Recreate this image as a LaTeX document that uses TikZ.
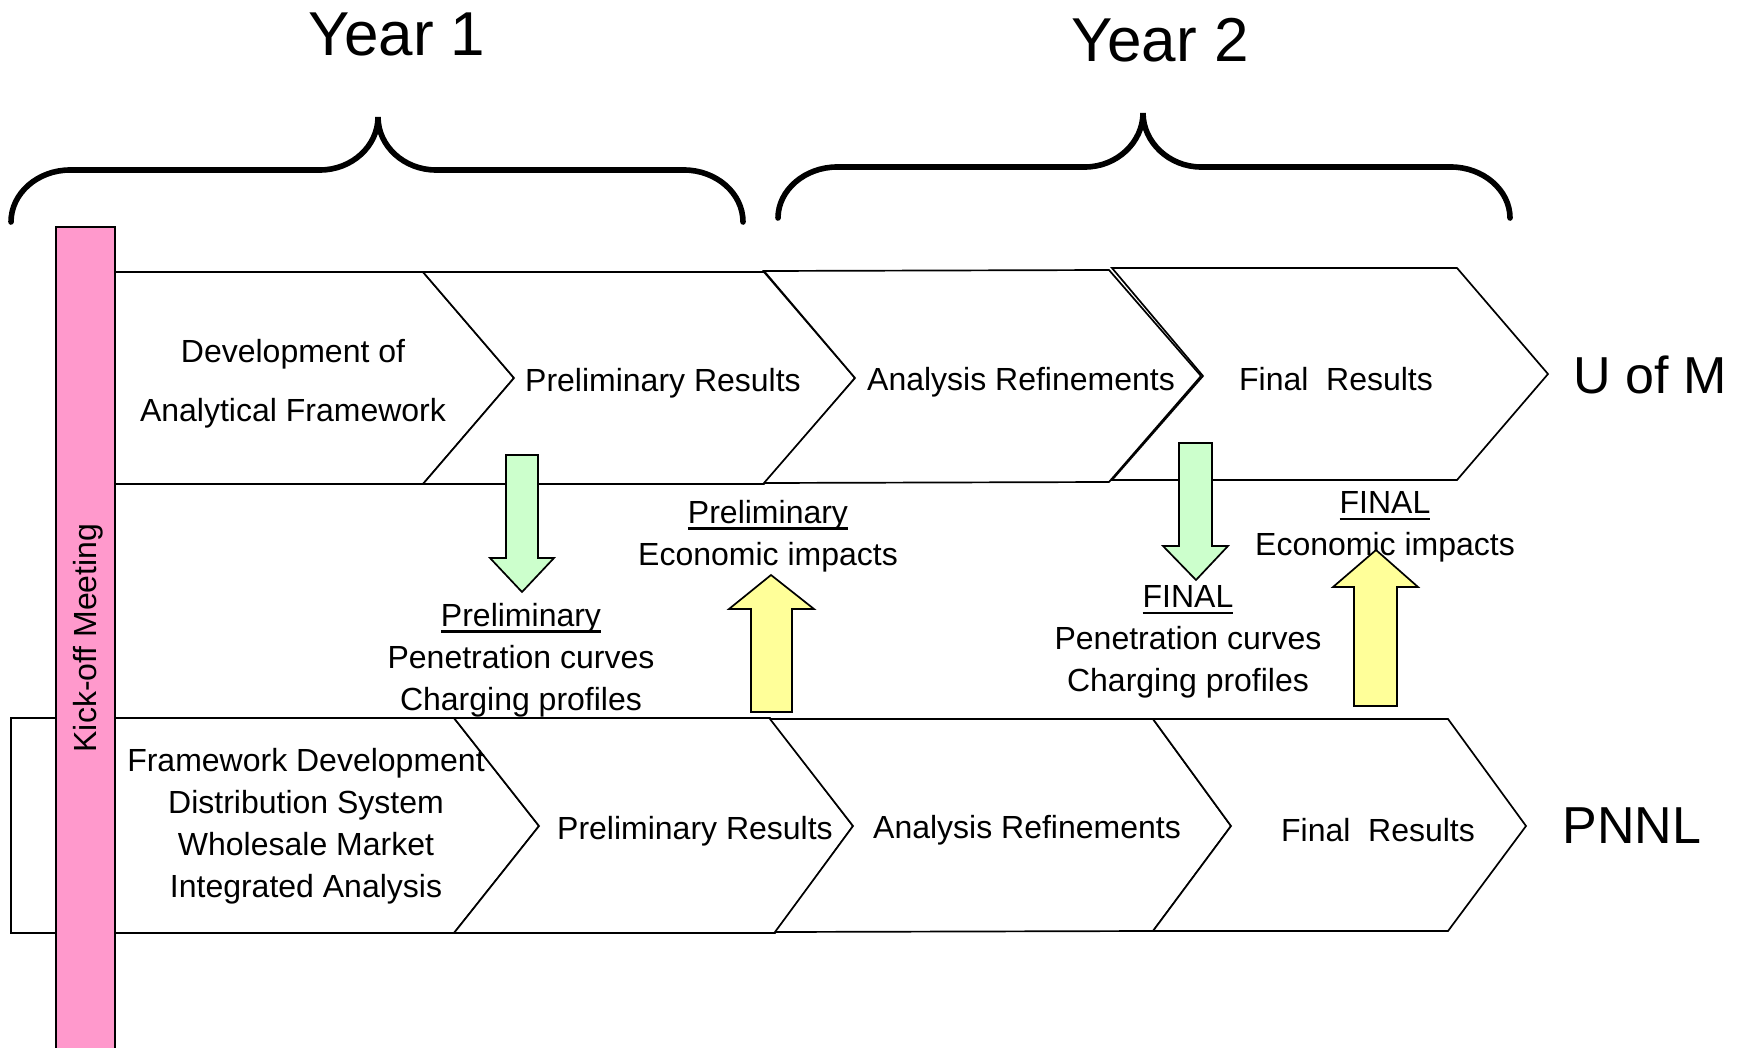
\documentclass[tikz,border=0pt]{standalone}
\usepackage{fontspec}
\setmainfont{Liberation Sans}
\usepackage{xcolor}
\usepackage{tikz}
\usetikzlibrary{positioning}

\definecolor{kickpink}{HTML}{FF99CC}
\definecolor{downgreen}{HTML}{CCFFCC}
\definecolor{upyellow}{HTML}{FFFF99}

\newsavebox{\ulbox}
\newcommand{\ulword}[1]{\sbox{\ulbox}{#1}\rlap{\rule[-3.2pt]{\wd\ulbox}{1.1pt}}\usebox{\ulbox}}

\begin{document}
\begin{tikzpicture}[x=0.5pt,y=-0.5pt,line join=miter]
			\tikzstyle{chevron}=[draw=black,fill=white,line width=0.85pt]
			\tikzstyle{brace}=[draw=black,line width=2.8pt,line cap=round]
			\tikzstyle{blockarrow}=[draw=black,line width=0.85pt]
			\tikzstyle{steptext}=[align=center,inner sep=0pt,font=\fontsize{16}{21}\selectfont]
			\tikzstyle{grouptext}=[inner sep=0pt,font=\fontsize{26}{30}\selectfont]
			\tikzstyle{yeartext}=[inner sep=0pt,font=\fontsize{31}{36}\selectfont]
			
			\useasboundingbox (0,0) rectangle (1744,1048);
			
			% year braces
			\draw[brace] (11,222) .. controls (11,193) and (38,170) .. (70,170) -- (320,170)
			.. controls (352,170) and (378,146) .. (378,117)
			.. controls (378,146) and (404,170) .. (436,170) -- (684,170)
			.. controls (716,170) and (743,193) .. (743,222);
			
			\draw[brace] (778,218) .. controls (778,190) and (805,167) .. (837,167) -- (1085,167)
			.. controls (1117,167) and (1143,142) .. (1143,113)
			.. controls (1143,142) and (1169,167) .. (1201,167) -- (1451,167)
			.. controls (1483,167) and (1510,190) .. (1510,218);
			
			\node[yeartext] (year1) at (397,34) {Year 1};
			\node[yeartext] (year2) at (1160,40) {Year 2};
			
			% U of M row
			\draw[chevron] (85,272) -- (423,272) -- (514,378) -- (423,484) -- (85,484) -- cycle;
			\draw[chevron] (423,272) -- (764,272) -- (855,378) -- (764,484) -- (423,484) -- (514,378) -- cycle;
			\draw[chevron] (764,271) -- (1109,270) -- (1201,376) -- (1109,482) -- (764,483) -- (855,378) -- cycle;
			\draw[chevron] (1112,268) -- (1457,268) -- (1548,374) -- (1457,480) -- (1112,480) -- (1203,376) -- cycle;
			
			% PNNL row
			\draw[chevron] (11,718) -- (454,718) -- (539,826) -- (454,933) -- (11,933) -- cycle;
			\draw[chevron] (454,718) -- (770,718) -- (853,826) -- (775,933) -- (454,933) -- (539,826) -- cycle;
			\draw[chevron] (770,719) -- (1153,719) -- (1231,826) -- (1153,931) -- (775,932) -- (853,826) -- cycle;
			\draw[chevron] (1153,719) -- (1448,719) -- (1526,826) -- (1448,931) -- (1153,931) -- (1231,826) -- cycle;
			
			% kick-off bar
			\draw[fill=kickpink,line width=0.85pt] (56,227) rectangle (115,1050);
			\node[steptext,rotate=90] (kickoff) at (88,638) {Kick-off Meeting};
			
			\node[steptext,font=\fontsize{16}{29.5}\selectfont] (um1) at (293,384) {Development of\\Analytical Framework};
			\node[steptext] (um2) at (663,383) {Preliminary Results};
			\node[steptext] (um3) at (1021,382) {Analysis Refinements};
			\node[steptext] (um4) at (1336,379) {Final~~Results};
			\node[grouptext] (uofm) at (1650,375) {U of M};
			
			\node[steptext] (pn1) at (306,826) {Framework Development\\Distribution System\\Wholesale Market\\Integrated Analysis};
			\node[steptext] (pn2) at (695,831) {Preliminary Results};
			\node[steptext] (pn3) at (1027,830) {Analysis Refinements};
			\node[steptext] (pn4) at (1378,830) {Final~~Results};
			\node[grouptext] (pnnl) at (1632,826) {PNNL};
			
			% exchanged results
			\node[steptext] (prepen) at (521,660) {\ulword{Preliminary}\\Penetration curves\\Charging profiles};
			\node[steptext] (preeco) at (768,536) {\ulword{Preliminary}\\Economic impacts};
			\node[steptext] (finpen) at (1188,642) {\ulword{FINAL}\\Penetration curves\\Charging profiles};
			\node[steptext] (fineco) at (1385,527) {\ulword{FINAL}\\Economic impacts};
			
			\draw[blockarrow,fill=downgreen] (506,455) -- (538,455) -- (538,558) -- (554,558) -- (522,592) -- (490,558) -- (506,558) -- cycle;
			\draw[blockarrow,fill=upyellow] (751,712) -- (792,712) -- (792,609) -- (814,609) -- (771,575) -- (729,609) -- (751,609) -- cycle;
			\draw[blockarrow,fill=downgreen] (1179,443) -- (1212,443) -- (1212,546) -- (1228,546) -- (1196,580) -- (1163,546) -- (1179,546) -- cycle;
			\draw[blockarrow,fill=upyellow] (1354,706) -- (1397,706) -- (1397,587) -- (1418,587) -- (1376,550) -- (1333,587) -- (1354,587) -- cycle;
			
\end{tikzpicture}
\end{document}
